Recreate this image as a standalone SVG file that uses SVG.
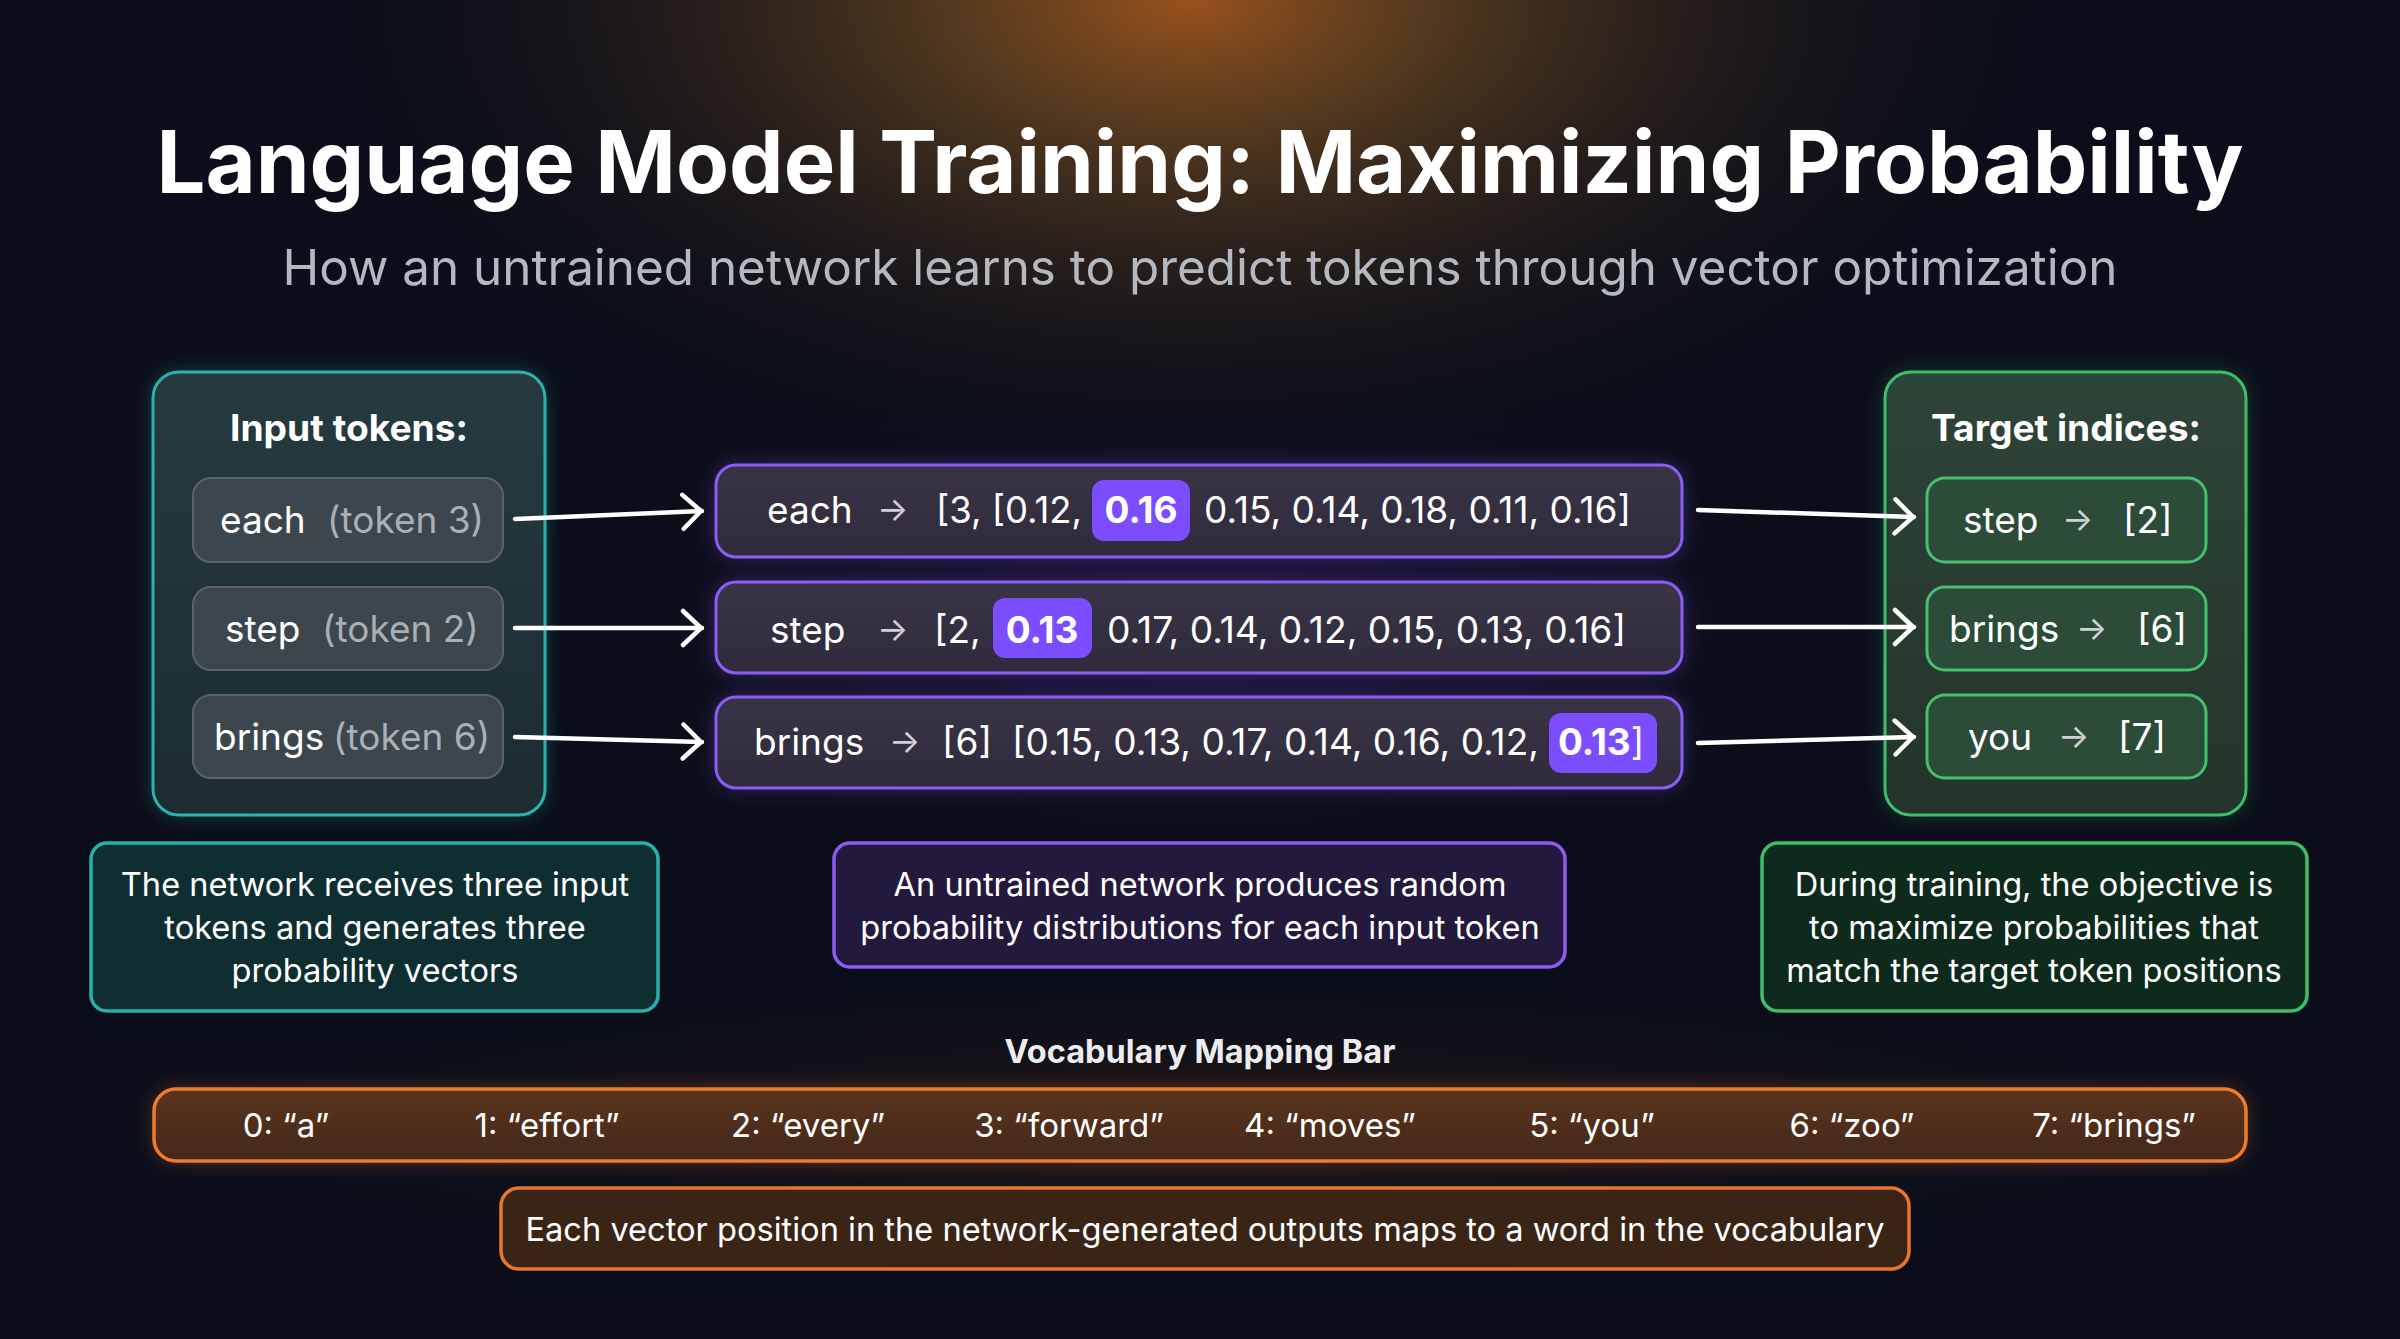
<svg xmlns="http://www.w3.org/2000/svg" width="2400" height="1339" viewBox="0 0 2400 1339">
<defs>
  <radialGradient id="topGlow" cx="1190" cy="0" r="900" gradientUnits="userSpaceOnUse" gradientTransform="translate(1190 0) scale(1 0.55) translate(-1190 0)">
    <stop offset="0" stop-color="#a0541c" stop-opacity="0.95"/>
    <stop offset="0.25" stop-color="#6a4620" stop-opacity="0.8"/>
    <stop offset="0.6" stop-color="#3a2a1c" stop-opacity="0.45"/>
    <stop offset="1" stop-color="#0b0e1a" stop-opacity="0"/>
  </radialGradient>
  <radialGradient id="midGlow" cx="1200" cy="620" r="700" gradientUnits="userSpaceOnUse" gradientTransform="translate(1200 620) scale(1 0.4) translate(-1200 -620)">
    <stop offset="0" stop-color="#2a1650" stop-opacity="0.7"/>
    <stop offset="1" stop-color="#0b0e1a" stop-opacity="0"/>
  </radialGradient>
  <radialGradient id="botGlow" cx="1200" cy="1130" r="1100" gradientUnits="userSpaceOnUse" gradientTransform="translate(1200 1130) scale(1 0.15) translate(-1200 -1130)">
    <stop offset="0" stop-color="#3a2212" stop-opacity="0.6"/>
    <stop offset="1" stop-color="#0b0e1a" stop-opacity="0"/>
  </radialGradient>
  <linearGradient id="tealPanel" x1="0" y1="0" x2="0" y2="1">
    <stop offset="0" stop-color="#263a40"/>
    <stop offset="1" stop-color="#1c2c31"/>
  </linearGradient>
  <linearGradient id="greenPanel" x1="0" y1="0" x2="0" y2="1">
    <stop offset="0" stop-color="#2f4439"/>
    <stop offset="1" stop-color="#243429"/>
  </linearGradient>
  <linearGradient id="purpleBox" x1="0" y1="0" x2="0" y2="1">
    <stop offset="0" stop-color="#3a3546"/>
    <stop offset="1" stop-color="#2f2a3c"/>
  </linearGradient>
  <linearGradient id="orangeBar" x1="0" y1="0" x2="0" y2="1">
    <stop offset="0" stop-color="#5a341c"/>
    <stop offset="1" stop-color="#44281a"/>
  </linearGradient>
  <filter id="glow" x="-20%" y="-40%" width="140%" height="180%">
    <feGaussianBlur stdDeviation="10"/>
  </filter>
  <marker id="chev" viewBox="0 0 24 40" refX="22" refY="20" markerWidth="24" markerHeight="40" markerUnits="userSpaceOnUse" orient="auto">
    <path d="M3 3 L21 20 L3 37" fill="none" stroke="#ffffff" stroke-width="4.5" stroke-linecap="round" stroke-linejoin="round"/>
  </marker>
  <style>
    text { font-family: Inter, "Noto Sans", "Liberation Sans", sans-serif; }
    .title { font-size: 86.6px; font-weight: 700; fill: #ffffff; }
    .sub { font-size: 49.4px; fill: #b4b8c0; }
    .head { font-size: 37.2px; font-weight: 700; fill: #ffffff; }
    .tok { font-size: 37px; fill: #ffffff; }
    .tokg { font-size: 37px; fill: #a9afb6; }
    .vec { font-size: 37px; fill: #ffffff; }
    .arr { font-size: 33px; fill: #d0d0d8; }
    .hl { font-size: 37px; font-weight: 700; fill: #ffffff; }
    .desc { font-size: 32.6px; fill: #ffffff; }
    .vocab { font-size: 33px; fill: #ffffff; }
    .note { font-size: 32.6px; fill: #ffffff; }
    .vlabel { font-size: 32.5px; font-weight: 700; fill: #ececef; }
    .conn { fill: none; stroke: #ffffff; stroke-width: 4.5; stroke-linecap: round; marker-end: url(#chev); }
  </style>
</defs>

<rect x="0" y="0" width="2400" height="1339" fill="#0b0e1a"/>
<rect x="0" y="0" width="2400" height="1339" fill="url(#topGlow)"/>
<rect x="0" y="300" width="2400" height="700" fill="url(#midGlow)"/>
<rect x="0" y="900" width="2400" height="439" fill="url(#botGlow)"/>

<g id="title">
  <text class="title" x="1200" y="193" text-anchor="middle">Language Model Training: Maximizing Probability</text>
  <text class="sub" x="1200" y="285" text-anchor="middle">How an untrained network learns to predict tokens through vector optimization</text>
</g>

<g id="input-tokens">
  <rect x="153" y="372" width="392" height="443" rx="26" fill="#2ab3ad" opacity="0.35" filter="url(#glow)"/>
  <rect x="153" y="372" width="392" height="443" rx="26" fill="url(#tealPanel)" stroke="#2ab3ad" stroke-width="3"/>
  <text class="head" x="349" y="441" text-anchor="middle">Input tokens:</text>
  <rect x="193" y="478" width="310" height="84" rx="18" fill="#3d454d" stroke="#5a626b" stroke-width="2"/>
  <rect x="193" y="587" width="310" height="83" rx="18" fill="#3d454d" stroke="#5a626b" stroke-width="2"/>
  <rect x="193" y="695" width="310" height="83" rx="18" fill="#3d454d" stroke="#5a626b" stroke-width="2"/>
  <text class="tok" x="220" y="533">each</text><text class="tokg" x="327" y="533">(token 3)</text>
  <text class="tok" x="225" y="642">step</text><text class="tokg" x="322" y="642">(token 2)</text>
  <text class="tok" x="214" y="750">brings</text><text class="tokg" x="333" y="750">(token 6)</text>
</g>

<g id="vector-each">
  <rect x="716" y="465" width="966" height="92" rx="20" fill="#8b5cf6" opacity="0.35" filter="url(#glow)"/>
  <rect x="716" y="465" width="966" height="92" rx="20" fill="url(#purpleBox)" stroke="#8b5cf6" stroke-width="3"/>
  <rect x="1092" y="480" width="98" height="61" rx="12" fill="#7c4dff"/>
  <text class="vec" x="767" y="523">each</text>
  <text class="arr" x="877" y="521">→</text>
  <text class="vec" x="936" y="523" textLength="146" lengthAdjust="spacingAndGlyphs">[3, [0.12,</text>
  <text class="hl" x="1141" y="523" text-anchor="middle">0.16</text>
  <text class="vec" x="1204" y="523" textLength="427" lengthAdjust="spacingAndGlyphs">0.15, 0.14, 0.18, 0.11, 0.16]</text>
</g>

<g id="vector-step">
  <rect x="716" y="582" width="966" height="91" rx="20" fill="#8b5cf6" opacity="0.35" filter="url(#glow)"/>
  <rect x="716" y="582" width="966" height="91" rx="20" fill="url(#purpleBox)" stroke="#8b5cf6" stroke-width="3"/>
  <rect x="993" y="598" width="99" height="60" rx="12" fill="#7c4dff"/>
  <text class="vec" x="770" y="643">step</text>
  <text class="arr" x="877" y="641">→</text>
  <text class="vec" x="934" y="643">[2,</text>
  <text class="hl" x="1042" y="643" text-anchor="middle">0.13</text>
  <text class="vec" x="1107" y="643" textLength="519" lengthAdjust="spacingAndGlyphs">0.17, 0.14, 0.12, 0.15, 0.13, 0.16]</text>
</g>

<g id="vector-brings">
  <rect x="716" y="697" width="966" height="91" rx="20" fill="#8b5cf6" opacity="0.35" filter="url(#glow)"/>
  <rect x="716" y="697" width="966" height="91" rx="20" fill="url(#purpleBox)" stroke="#8b5cf6" stroke-width="3"/>
  <rect x="1549" y="713" width="108" height="60" rx="12" fill="#7c4dff"/>
  <text class="vec" x="754" y="755">brings</text>
  <text class="arr" x="889" y="753">→</text>
  <text class="vec" x="942" y="755">[6]</text>
  <text class="vec" x="1012" y="755" textLength="527" lengthAdjust="spacingAndGlyphs">[0.15, 0.13, 0.17, 0.14, 0.16, 0.12,</text>
  <text class="hl" x="1558" y="755">0.13<tspan font-weight="400">]</tspan></text>
</g>

<g id="target-indices">
  <rect x="1885" y="372" width="361" height="443" rx="26" fill="#3dbf6a" opacity="0.3" filter="url(#glow)"/>
  <rect x="1885" y="372" width="361" height="443" rx="26" fill="url(#greenPanel)" stroke="#3dbf6a" stroke-width="3"/>
  <text class="head" x="2066" y="441" text-anchor="middle">Target indices:</text>
  <rect x="1927" y="478" width="279" height="84" rx="18" fill="#2c4b39" stroke="#44c070" stroke-width="3"/>
  <rect x="1927" y="587" width="279" height="83" rx="18" fill="#2c4b39" stroke="#44c070" stroke-width="3"/>
  <rect x="1927" y="695" width="279" height="83" rx="18" fill="#2c4b39" stroke="#44c070" stroke-width="3"/>
  <text class="tok" x="1963" y="533">step</text><text class="arr" x="2062" y="531">→</text><text class="tok" x="2123" y="533">[2]</text>
  <text class="tok" x="1949" y="642">brings</text><text class="arr" x="2076" y="640">→</text><text class="tok" x="2137" y="642">[6]</text>
  <text class="tok" x="1968" y="750">you</text><text class="arr" x="2058" y="748">→</text><text class="tok" x="2118" y="750">[7]</text>
</g>

<g id="connectors">
  <path class="conn" d="M515 519 L702 511"/>
  <path class="conn" d="M515 628 L702 628"/>
  <path class="conn" d="M515 737 L702 742"/>
  <path class="conn" d="M1698 510 L1914 517"/>
  <path class="conn" d="M1698 627 L1914 627"/>
  <path class="conn" d="M1698 743 L1914 737"/>
</g>

<g id="desc-input">
  <rect x="91" y="843" width="567" height="168" rx="16" fill="#0f2e31" stroke="#28b0aa" stroke-width="3.5"/>
  <text class="desc" x="375" y="896" text-anchor="middle">The network receives three input</text>
  <text class="desc" x="375" y="939" text-anchor="middle">tokens and generates three</text>
  <text class="desc" x="375" y="982" text-anchor="middle">probability vectors</text>
</g>

<g id="desc-vectors">
  <rect x="834" y="843" width="731" height="124" rx="16" fill="#23193c" stroke="#8c5cf0" stroke-width="3.5"/>
  <text class="desc" x="1200" y="896" text-anchor="middle">An untrained network produces random</text>
  <text class="desc" x="1200" y="939" text-anchor="middle">probability distributions for each input token</text>
</g>

<g id="desc-target">
  <rect x="1762" y="843" width="545" height="168" rx="16" fill="#0e2a1c" stroke="#3cbf68" stroke-width="3.5"/>
  <text class="desc" x="2034" y="896" text-anchor="middle">During training, the objective is</text>
  <text class="desc" x="2034" y="939" text-anchor="middle">to maximize probabilities that</text>
  <text class="desc" x="2034" y="982" text-anchor="middle">match the target token positions</text>
</g>

<g id="vocab-bar">
  <text class="vlabel" x="1200" y="1063" text-anchor="middle">Vocabulary Mapping Bar</text>
  <rect x="154" y="1089" width="2092" height="72" rx="22" fill="#e8742a" opacity="0.35" filter="url(#glow)"/>
  <rect x="154" y="1089" width="2092" height="72" rx="22" fill="url(#orangeBar)" stroke="#ee7a2c" stroke-width="3.5"/>
  <text class="vocab" x="286" y="1137" text-anchor="middle">0: “a”</text>
  <text class="vocab" x="547" y="1137" text-anchor="middle">1: “effort”</text>
  <text class="vocab" x="808" y="1137" text-anchor="middle">2: “every”</text>
  <text class="vocab" x="1069" y="1137" text-anchor="middle">3: “forward”</text>
  <text class="vocab" x="1330" y="1137" text-anchor="middle">4: “moves”</text>
  <text class="vocab" x="1592" y="1137" text-anchor="middle">5: “you”</text>
  <text class="vocab" x="1852" y="1137" text-anchor="middle">6: “zoo”</text>
  <text class="vocab" x="2114" y="1137" text-anchor="middle">7: “brings”</text>
</g>

<g id="vocab-note">
  <rect x="501" y="1188" width="1408" height="81" rx="18" fill="#3a2416" stroke="#e8762c" stroke-width="3.5"/>
  <text class="note" x="1205" y="1241" text-anchor="middle">Each vector position in the network-generated outputs maps to a word in the vocabulary</text>
</g>
</svg>
